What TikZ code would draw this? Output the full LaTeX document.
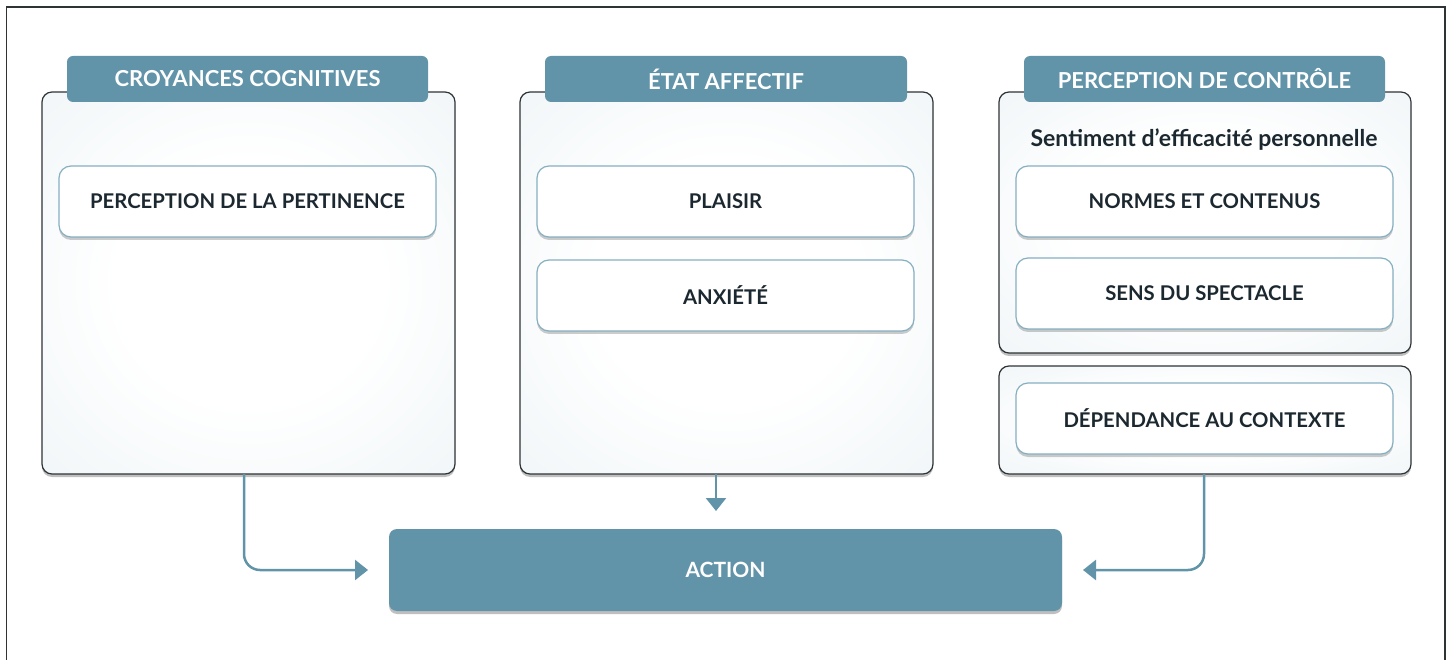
\documentclass[tikz,border=0pt]{standalone}
\usepackage{fontspec}
\setmainfont{Lato}
\usetikzlibrary{shadows,arrows.meta}
\definecolor{hdr}{HTML}{6194A9}
\definecolor{boxline}{HTML}{2E3336}
\definecolor{glowmid}{HTML}{F1F6F8}
\definecolor{glowedge}{HTML}{DAE6ED}
\definecolor{glowcorner}{HTML}{CCDCE5}
\definecolor{itemline}{HTML}{86AFC1}
\definecolor{txt}{HTML}{1C2830}
\pgfdeclareradialshading{glow}{\pgfpoint{0bp}{0bp}}{color(0bp)=(white); color(16bp)=(white); color(36bp)=(glowmid); color(50bp)=(glowedge); color(71bp)=(glowcorner); color(100bp)=(glowcorner)}
\tikzset{
  bigbox/.style={draw=boxline, line width=1.2pt, rounded corners=10pt, shading=glow,
    outer sep=0pt, inner sep=0pt,
    drop shadow={shadow xshift=0pt, shadow yshift=-3pt, opacity=0.25, fill=black}},
  tab/.style={fill=hdr, rounded corners=6pt, text=white, outer sep=0pt, inner sep=0pt,
    font=\bfseries\fontsize{22}{26}\selectfont},
  item/.style={draw=itemline, line width=1.2pt, fill=white, rounded corners=12pt, text=txt,
    outer sep=0pt, inner sep=0pt, font=\bfseries\fontsize{20.3}{24}\selectfont,
    drop shadow={shadow xshift=0pt, shadow yshift=-3pt, opacity=0.2, fill=black}},
  actbox/.style={fill=hdr, rounded corners=8pt, text=white, outer sep=0pt, inner sep=0pt,
    font=\bfseries\fontsize{21}{25}\selectfont,
    drop shadow={shadow xshift=0pt, shadow yshift=-3pt, opacity=0.25, fill=black}},
  flow/.style={draw=hdr, line width=2.5pt, rounded corners=16pt, -{Triangle[width=20pt,length=13pt]}},
  frame/.style={draw=boxline, line width=1.3pt}
}
\begin{document}
\begin{tikzpicture}[x=1pt,y=-1pt]
\useasboundingbox (0,0) rectangle (1449,660);
\draw[frame] (6.5,660) -- (6.5,7) -- (1445,7) -- (1445,660);

% column 1
\node[bigbox, minimum width=413pt, minimum height=382pt] (b1) at (248.5,283) {};
\node[tab, minimum width=361pt, minimum height=46pt] (t1) at (247.5,79) {CROYANCES COGNITIVES};
\node[item, minimum width=377pt, minimum height=71pt] (i1) at (247.5,201.5) {PERCEPTION DE LA PERTINENCE};

% column 2
\node[bigbox, minimum width=413pt, minimum height=382pt] (b2) at (726.5,283) {};
\node[tab, minimum width=362pt, minimum height=46pt] (t2) at (726,79) {ÉTAT AFFECTIF};
\node[item, minimum width=377pt, minimum height=71pt] (i2) at (725.5,201.5) {PLAISIR};
\node[item, minimum width=377pt, minimum height=71pt] (i3) at (725.5,295.5) {ANXIÉTÉ};

% column 3
\node[bigbox, minimum width=412pt, minimum height=261pt] (b3) at (1205,222.5) {};
\node[tab, minimum width=361pt, minimum height=46pt] (t3) at (1204.5,79) {PERCEPTION DE CONTRÔLE};
\node[text=txt, font=\bfseries\fontsize{23}{27}\selectfont] (s3) at (1204,140) {Sentiment d’efficacité personnelle};
\node[item, minimum width=377pt, minimum height=71pt] (i4) at (1204.5,201.5) {NORMES ET CONTENUS};
\node[item, minimum width=377pt, minimum height=71pt] (i5) at (1204.5,293.5) {SENS DU SPECTACLE};

\node[bigbox, minimum width=412pt, minimum height=108pt] (b4) at (1205,420) {};
\node[item, minimum width=377pt, minimum height=71pt] (i6) at (1204.5,418.5) {DÉPENDANCE AU CONTEXTE};

% action
\node[actbox, minimum width=673pt, minimum height=82pt] (act) at (725.5,570) {ACTION};

% connectors
\draw[flow] ([xshift=-4.5pt]b1.south) |- ([xshift=-21pt]act.west);
\draw[flow, shorten >=18pt] ([xshift=-10.5pt]b2.south) -- ([xshift=-10.5pt]b2.south |- act.north);
\draw[flow] ([xshift=-1pt]b4.south) |- ([xshift=21pt]act.east);
\end{tikzpicture}
\end{document}
